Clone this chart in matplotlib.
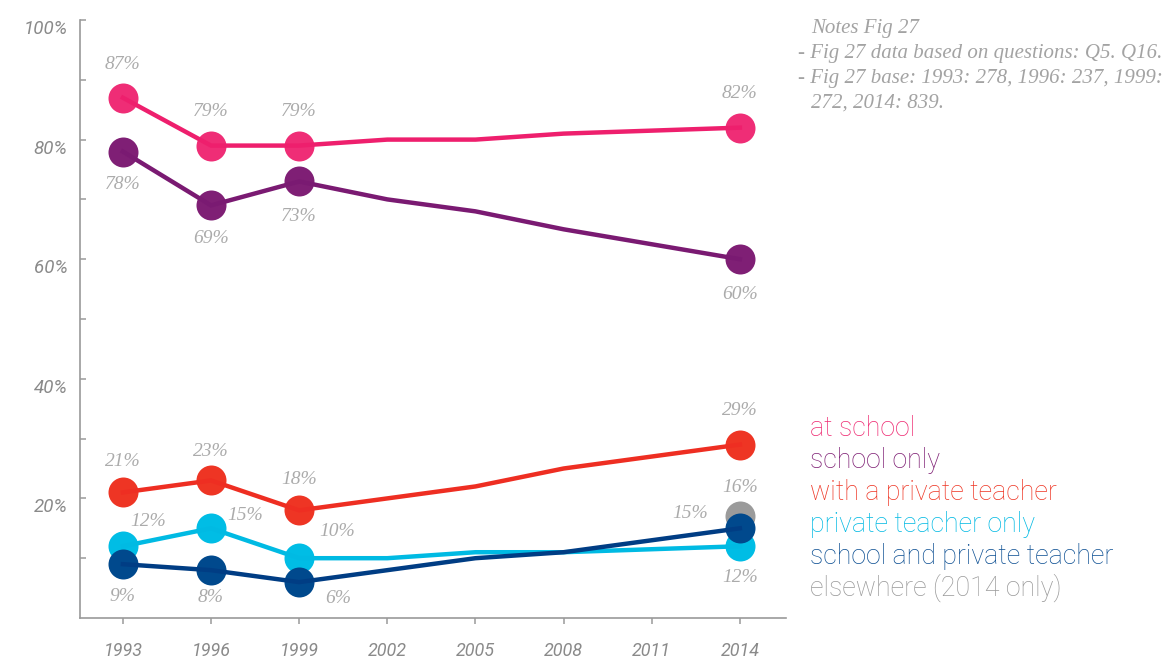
import matplotlib
matplotlib.use('Agg')
import matplotlib.pyplot as plt
from matplotlib.transforms import ScaledTranslation

# ---- data ----
years = [1993, 1996, 1999, 2002, 2005, 2008, 2011, 2014]
marked_years = [1993, 1996, 1999, 2014]
at_school = [87, 79, 79, 80, 80, 81, 81.5, 82]
school_only = [78, 69, 73, 70, 68, 65, 62.5, 60]
private_teacher = [21, 23, 18, 20, 22, 25, 27, 29]
private_only = [12, 15, 10, 10, 11, 11, 11.5, 12]
school_and_private = [9, 8, 6, 8, 10, 11, 13, 15]
elsewhere_years = [2014]
elsewhere = [17]
elsewhere_labels = ["16%"]

series_names = ["at school", "school only", "with a private teacher",
                "private teacher only", "school and private teacher",
                "elsewhere (2014 only)"]
yticks_major = [20, 40, 60, 80, 100]
yticks_minor = [10, 30, 50, 70, 90]
ytick_labels = ["20%", "40%", "60%", "80%", "100%"]
notes_lines = ["Notes Fig 27",
               "- Fig 27 data based on questions: Q5. Q16.",
               "- Fig 27 base: 1993: 278, 1996: 237, 1999:",
               "272, 2014: 839."]

# ---- style ----
dot_colors = ["#EF2D76", "#7F1F75", "#EE3524", "#00BDE5", "#00498D", "#9B9B9B"]
line_colors = ["#EE1F6D", "#7A1A72", "#EE2E22", "#00BAE3", "#003D84", "#9B9B9B"]
legend_colors = ["#EE2A72", "#7E1F74", "#EE3524", "#00B9E3", "#0B4E92", "#999999"]
label_color = "#ABABAB"
axis_color = "#9A9A9A"
tick_font = dict(family=["Roboto", "DejaVu Sans"], style="italic")
serif = ["Liberation Serif", "DejaVu Serif"]

W, H = 1165, 661
fig = plt.figure(figsize=(W / 100, H / 100), dpi=100)
ax = fig.add_axes([80 / W, (H - 618) / H, 706 / W, 598 / H])
ax.set_xlim(1991.54, 2015.57)
ax.set_ylim(0, 100)

all_series = [at_school, school_only, private_teacher, private_only, school_and_private]
offsets = [
    [(0, 33), (0, 34), (0, 34), (0, 34)],
    [(0, -33), (0, -33), (0, -35), (0, -35)],
    [(0, 31), (0, 29), (0, 31), (0, 34)],
    [(25, 25), (34, 13), (38, 27), (0, -31)],
    [(0, -32), (0, -27), (39, -16), (-50, 15)],
]

# gray elsewhere dot first (below navy)
ax.plot(elsewhere_years, elsewhere, 'o', ms=21.6, color=dot_colors[5], mec='none', zorder=2)
for yv, lab in zip(elsewhere, elsewhere_labels):
    ax.annotate(lab, (elsewhere_years[0], yv), xytext=(0, 29), textcoords='offset pixels',
                ha='center', va='center', fontsize=14, family=serif, style='italic',
                color=label_color, zorder=6)

for i in range(len(all_series)):
    vals = all_series[i]
    mv = [vals[years.index(y)] for y in marked_years]
    ax.plot(marked_years, mv, 'o', ms=21.6, color=dot_colors[i], mec='none', zorder=2 + i * 0.1)
    ax.plot(years, vals, '-', lw=3.2, color=line_colors[i], zorder=3 + i * 0.1,
            solid_joinstyle='miter')
    for (y, v), off in zip(zip(marked_years, mv), offsets[i]):
        ax.annotate(f"{v:.0f}%", (y, v), xytext=off, textcoords='offset pixels',
                    ha='center', va='center', fontsize=14, family=serif, style='italic',
                    color=label_color, zorder=6)

# ---- axes styling ----
for s in ['top', 'right']:
    ax.spines[s].set_visible(False)
for s in ['left', 'bottom']:
    ax.spines[s].set_color(axis_color)
    ax.spines[s].set_linewidth(1.2)

ax.set_xticks(years)
ax.set_xticklabels([str(y) for y in years], color="#8A8A8A", fontsize=13, **tick_font)
ax.set_yticks(yticks_major)
ax.set_yticklabels(ytick_labels, color="#8A8A8A", fontsize=13.5, **tick_font)
ax.set_yticks(yticks_minor, minor=True)
ax.tick_params(axis='y', which='both', direction='in', length=4.5, width=1.1,
               color=axis_color, pad=9)
ax.tick_params(axis='x', direction='out', length=4.5, width=1.1, color=axis_color, pad=13)
shift = ScaledTranslation(0, -7 / 100, fig.dpi_scale_trans)
for lab in ax.get_yticklabels():
    lab.set_transform(lab.get_transform() + shift)

# ---- legend as coloured text ----
for k, (name, c) in enumerate(zip(series_names, legend_colors)):
    fig.text(810 / W, 1 - (436 + 32 * k) / H, name, color=c, fontsize=19.3,
             family=["Roboto", "DejaVu Sans"], fontweight='light', va='baseline', ha='left')

# ---- notes ----
note_x = [811, 798, 798, 811]
for k, (line, nx) in enumerate(zip(notes_lines, note_x)):
    fig.text(nx / W, 1 - (33 + 25 * k) / H, line, color="#A3A3A3", fontsize=15,
             family=serif, style='italic', va='baseline', ha='left')

fig.savefig("out.png", dpi=100)
